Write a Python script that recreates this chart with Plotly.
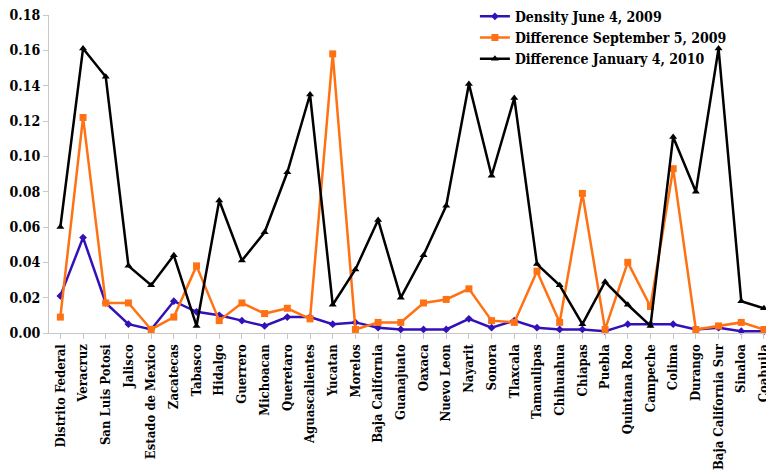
import plotly.graph_objects as go

states = [
    "Distrito Federal", "Veracruz", "San Luis Potosi", "Jalisco", "Estado de Mexico",
    "Zacatecas", "Tabasco", "Hidalgo", "Guerrero", "Michoacan", "Queretaro",
    "Aguascalientes", "Yucatan", "Morelos", "Baja California", "Guanajuato", "Oaxaca",
    "Nuevo Leon", "Nayarit", "Sonora", "Tlaxcala", "Tamaulipas", "Chihuahua", "Chiapas",
    "Puebla", "Quintana Roo", "Campeche", "Colima", "Durango", "Baja California Sur",
    "Sinaloa", "Coahuila",
]

density_jun_2009 = [
    0.021, 0.054, 0.017, 0.005, 0.002, 0.018, 0.012, 0.010, 0.007, 0.004, 0.009,
    0.009, 0.005, 0.006, 0.003, 0.002, 0.002, 0.002, 0.008, 0.003, 0.007, 0.003,
    0.002, 0.002, 0.001, 0.005, 0.005, 0.005, 0.002, 0.003, 0.001, 0.001,
]

diff_sep_2009 = [
    0.009, 0.122, 0.017, 0.017, 0.002, 0.009, 0.038, 0.007, 0.017, 0.011, 0.014,
    0.008, 0.158, 0.002, 0.006, 0.006, 0.017, 0.019, 0.025, 0.007, 0.006, 0.035,
    0.006, 0.079, 0.002, 0.040, 0.015, 0.093, 0.002, 0.004, 0.006, 0.002,
]

diff_jan_2010 = [
    0.060, 0.161, 0.145, 0.038, 0.027, 0.044, 0.004, 0.075, 0.041, 0.057, 0.091,
    0.135, 0.016, 0.036, 0.064, 0.020, 0.044, 0.072, 0.141, 0.089, 0.133, 0.039,
    0.027, 0.005, 0.029, 0.016, 0.004, 0.111, 0.080, 0.161, 0.018, 0.014,
]

y_ticks = [0.00, 0.02, 0.04, 0.06, 0.08, 0.10, 0.12, 0.14, 0.16, 0.18]

FONT = "DejaVu Serif Condensed"

series = [
    ("Density June 4, 2009", density_jun_2009, "#3311b8", "diamond", 6),
    ("Difference September 5, 2009", diff_sep_2009, "#ff7214", "square", 7),
    ("Difference January 4, 2010", diff_jan_2010, "#000000", "triangle-up", 7),
]

fig = go.Figure()
for name, vals, color, symbol, size in series:
    fig.add_trace(go.Scatter(
        x=list(range(len(states))), y=vals, name=name, mode="lines+markers",
        line=dict(color=color, width=2.5),
        marker=dict(symbol=symbol, size=size, color=color),
        cliponaxis=False,
    ))

fig.update_layout(
    width=766, height=473,
    margin=dict(l=49, r=0, t=15, b=140, autoexpand=False),
    plot_bgcolor="white", paper_bgcolor="white",
    font=dict(family=FONT, size=14, color="black"),
    showlegend=True,
    legend=dict(
        x=0.594, y=1.045, xanchor="left", yanchor="top",
        font=dict(family=FONT, size=14, color="black", weight="bold"),
        bgcolor="rgba(0,0,0,0)", tracegroupgap=0, itemwidth=30,
    ),
    xaxis=dict(
        tickmode="array", tickvals=list(range(len(states))), ticktext=states,
        tickangle=-90, range=[-0.5, 31.09], ticklabeloverflow="allow", automargin=False,
        tickfont=dict(family=FONT, size=13, color="black", weight="bold"),
        showgrid=False, zeroline=False, showline=True, linecolor="#c8c8c8", linewidth=1,
        ticks="outside", tickson="boundaries", ticklen=5, tickcolor="#c8c8c8",
    ),
    yaxis=dict(
        range=[0, 0.18], tickvals=y_ticks, tickformat=".2f", automargin=False,
        tickfont=dict(family=FONT, size=14, color="black", weight="bold"),
        showgrid=False, zeroline=False, showline=True, linecolor="#c8c8c8", linewidth=1,
        ticks="outside", ticklen=5, tickcolor="#c8c8c8",
    ),
)

fig.write_html("out.html")
